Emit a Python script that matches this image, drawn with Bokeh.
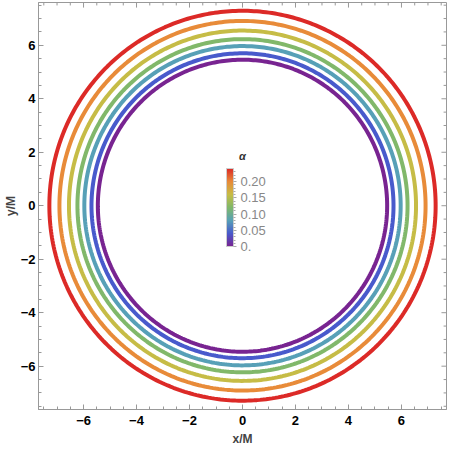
import numpy as np
from bokeh.plotting import figure
from bokeh.models import (ColorBar, LinearColorMapper, Label, Range1d,
                          FixedTicker, CustomJSTickFormatter)
from bokeh.embed import file_html
from bokeh.resources import INLINE

# data
alpha_values = [0.0, 0.04, 0.08, 0.12, 0.16, 0.20, 0.24]
shadow_radii = [5.46, 5.70, 5.97, 6.23, 6.55, 6.91, 7.29]
rainbow_anchors = ["#782491", "#4859CC", "#57A0B7", "#80B86A", "#C6BC46", "#E88A39", "#DC2A27"]
axis_ticks = [-6, -4, -2, 0, 2, 4, 6]
minor_ticks = [-7.5, -7, -6.5, -5.5, -5, -4.5, -3.5, -3, -2.5, -1.5, -1, -0.5,
               0.5, 1, 1.5, 2.5, 3, 3.5, 4.5, 5, 5.5, 6.5, 7, 7.5]
cbar_ticks = [0.0, 0.05, 0.10, 0.15, 0.20]
cbar_minor = [0.01, 0.02, 0.03, 0.04, 0.06, 0.07, 0.08, 0.09, 0.11, 0.12, 0.13, 0.14,
              0.16, 0.17, 0.18, 0.19, 0.21, 0.22, 0.23]

XLO, XHI, YLO, YHI = -7.7, 7.7, -7.62, 7.6


def hex2rgb(h):
    return np.array([int(h[i:i + 2], 16) for i in (1, 3, 5)], dtype=float)


anchor_rgb = np.array([hex2rgb(h) for h in rainbow_anchors])
anchor_pos = np.linspace(0, 1, len(rainbow_anchors))
palette = []
for t in np.linspace(0, 1, 256):
    rgb = [np.interp(t, anchor_pos, anchor_rgb[:, k]) for k in range(3)]
    palette.append("#%02x%02x%02x" % tuple(int(round(v)) for v in rgb))

amin, amax = min(alpha_values), max(alpha_values)

p = figure(width=448, height=448, output_backend="svg", toolbar_location=None,
           x_range=Range1d(XLO, XHI), y_range=Range1d(YLO, YHI),
           min_border_left=0, min_border_right=2, min_border_top=2, min_border_bottom=38,
           x_axis_label="x/M", y_axis_label="y/M")
p.grid.visible = False
p.outline_line_color = "#999999"
p.background_fill_color = "white"

theta = np.linspace(0, 2 * np.pi, 400)
for a, r in zip(alpha_values, shadow_radii):
    idx = int(round((a - amin) / (amax - amin) * 255))
    p.line(r * np.cos(theta), r * np.sin(theta), line_color=palette[idx], line_width=4)

fmt = CustomJSTickFormatter(code="return tick < 0 ? '\u2212' + Math.abs(tick) : String(tick);")

for ax in [p.xaxis[0], p.yaxis[0]]:
    ax.ticker = FixedTicker(ticks=axis_ticks, minor_ticks=minor_ticks)
    ax.formatter = fmt
    ax.major_label_text_font = "Liberation Sans"
    ax.major_label_text_font_style = "bold"
    ax.major_label_text_font_size = "13px"
    ax.major_label_text_color = "black"
    ax.axis_label_text_font = "Liberation Sans"
    ax.axis_label_text_font_style = "bold"
    ax.axis_label_text_font_size = "12px"
    ax.axis_line_color = "#999999"
    ax.major_tick_line_color = "#999999"
    ax.minor_tick_line_color = "#999999"
    ax.major_tick_in = 5
    ax.major_tick_out = 0
    ax.minor_tick_in = 3
    ax.minor_tick_out = 0
p.xaxis[0].major_label_standoff = 6
p.xaxis[0].axis_label_standoff = 4
p.yaxis[0].major_label_standoff = 3
p.yaxis[0].axis_label_standoff = 0

# inward ticks on the right and top frame edges
mj, mn = 0.19, 0.11
ta = np.array(axis_ticks, dtype=float)
tm = np.array(minor_ticks, dtype=float)
p.segment(x0=np.full(len(ta), XHI), x1=np.full(len(ta), XHI - mj), y0=ta, y1=ta,
          line_color="#999999", line_width=1)
p.segment(x0=np.full(len(tm), XHI), x1=np.full(len(tm), XHI - mn), y0=tm, y1=tm,
          line_color="#999999", line_width=1)
p.segment(y0=np.full(len(ta), YHI), y1=np.full(len(ta), YHI - mj), x0=ta, x1=ta,
          line_color="#999999", line_width=1)
p.segment(y0=np.full(len(tm), YHI), y1=np.full(len(tm), YHI - mn), x0=tm, x1=tm,
          line_color="#999999", line_width=1)

mapper = LinearColorMapper(palette=palette, low=amin, high=amax)
cb_fmt = CustomJSTickFormatter(code="return tick == 0 ? '0.' : tick.toFixed(2);")
cb = ColorBar(color_mapper=mapper, width=7, height=78, location=(188, 163),
              ticker=FixedTicker(ticks=cbar_ticks, minor_ticks=cbar_minor),
              formatter=cb_fmt, padding=0, margin=0,
              background_fill_alpha=0, border_line_color=None,
              major_label_text_font="Liberation Sans", major_label_text_font_size="13px",
              major_label_text_color="#888888", label_standoff=4,
              major_tick_line_color="#aaaaaa", major_tick_in=0, major_tick_out=3,
              minor_tick_line_color="#aaaaaa", minor_tick_in=0, minor_tick_out=2,
              bar_line_color="#cccccc")
p.add_layout(cb, "center")

p.add_layout(Label(x=0, y=1.85, text="α", text_align="center", text_baseline="middle",
                   text_font="Liberation Sans", text_font_style="bold italic",
                   text_font_size="11px", text_color="#333333"))

open("out.html", "w").write(file_html(p, INLINE))
